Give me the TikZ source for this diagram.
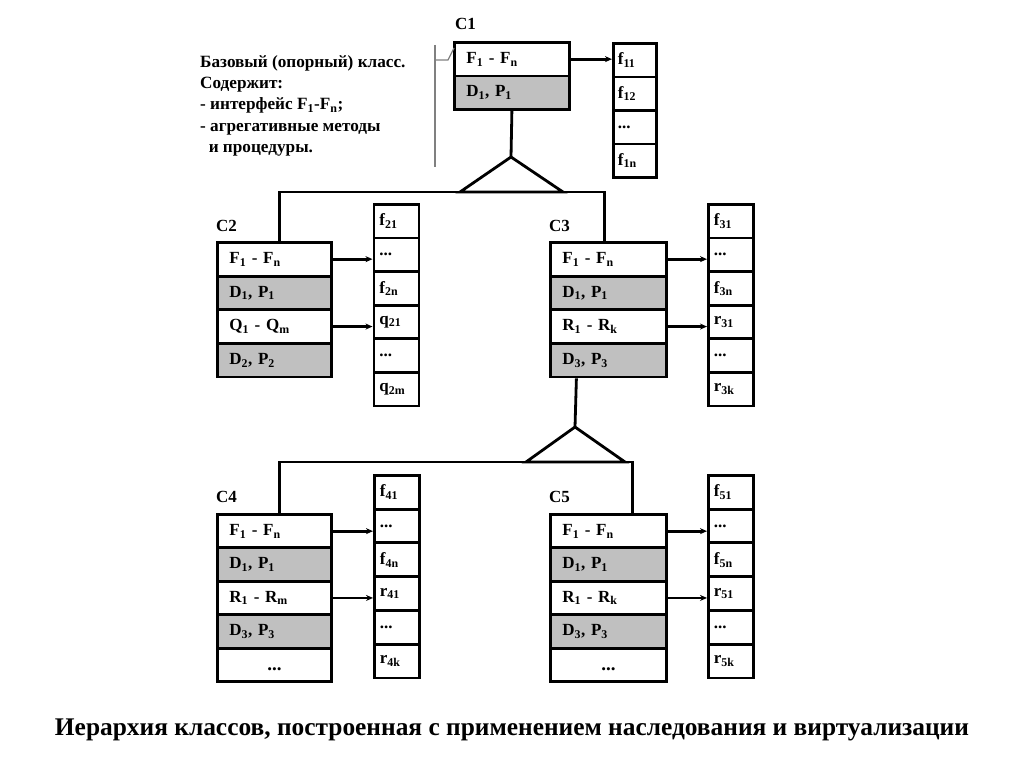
\documentclass[tikz,border=0pt]{standalone}
\usepackage{fontspec}
\setmainfont{Liberation Serif}
\usetikzlibrary{arrows.meta}
\definecolor{cellgray}{RGB}{192,192,192}
\definecolor{callgray}{RGB}{128,128,128}
\begin{document}
\begin{tikzpicture}[x=1pt,y=-1pt,
  cell/.style={draw, line width=2.8pt, anchor=north west, inner sep=0pt,
    font=\fontsize{17}{19}\selectfont\bfseries},
  row/.style={cell, minimum width=#1, minimum height=33.5pt,
    text width=#1-24pt, align=left},
  grow/.style={row=#1, fill=cellgray},
  col/.style={cell, minimum width=45pt, minimum height=33.6pt,
    text width=34pt, align=left},
  link/.style={line width=2.8pt},
  arr/.style={line width=2.8pt, -{Stealth[length=7pt,width=6pt]}},
  clabel/.style={anchor=west, inner sep=0pt, font=\fontsize{17}{19}\selectfont\bfseries},
  callout/.style={draw=callgray, line width=1.2pt},
  note/.style={anchor=north west, inner sep=0pt, align=left,
    font=\fontsize{17.2}{21.3}\selectfont\bfseries},
  title/.style={inner sep=0pt, font=\fontsize{25.4}{28}\selectfont\bfseries}
]
\useasboundingbox (0,0) rectangle (1024,768);
\newcommand{\sbs}[1]{\textsubscript{#1}}
\newcommand{\lowdots}{\raisebox{-6pt}[0pt][0pt]{\fontsize{19}{19}\selectfont ...}}

% ---------- C1 ----------
\node[clabel] (l1) at (455,24) {C1};
\node[row=115pt] (c1a) at (453,41) {F\sbs{1} - F\sbs{n}};
\node[grow=115pt] (c1b) at (453,74.5) {D\sbs{1}, P\sbs{1}};
\node[col, minimum width=43pt] (f1a) at (612,42) {f\sbs{11}};
\node[col, minimum width=43pt] (f1b) at (612,75.5) {f\sbs{12}};
\node[col, minimum width=43pt] (f1c) at (612,109) {...};
\node[col, minimum width=43pt] (f1d) at (612,142.5) {f\sbs{1n}};
\draw[arr] (c1a.east) -- (c1a.east -| f1a.west);

% callout
\node[note] (nt) at (200,55) {Базовый (опорный) класс.\\Содержит:\\- интерфейс F\sbs{1}-F\sbs{n};\\- агрегативные методы\\\ \ и процедуры.};
\coordinate (cv1) at (435,45);
\coordinate (cv2) at (435,167);
\coordinate (ch) at (435,60);
\coordinate (ck) at (448,60);
\coordinate (ct) at (454,48);
\draw[callout] (cv1) -- (cv2);
\draw[callout] (ch) -- (ck) -- (ct);

% ---------- C2 ----------
\node[clabel] (l2) at (216,226) {C2};
\node[row=114pt] (c2a) at (216,241) {F\sbs{1} - F\sbs{n}};
\node[grow=114pt] (c2b) at (216,274.7) {D\sbs{1}, P\sbs{1}};
\node[row=114pt] (c2c) at (216,308.4) {Q\sbs{1} - Q\sbs{m}};
\node[grow=114pt] (c2d) at (216,342.1) {D\sbs{2}, P\sbs{2}};
\node[col] (f2a) at (372.5,203) {f\sbs{21}};
\node[col] (f2b) at (372.5,236.6) {...};
\node[col] (f2c) at (372.5,270.2) {f\sbs{2n}};
\node[col] (f2d) at (372.5,303.8) {q\sbs{21}};
\node[col] (f2e) at (372.5,337.4) {...};
\node[col] (f2f) at (372.5,371) {q\sbs{2m}};
\draw[arr] (c2a.east) -- (c2a.east -| f2b.west);
\draw[arr] (c2c.east) -- (c2c.east -| f2d.west);

% ---------- C3 ----------
\node[clabel] (l3) at (549,226) {C3};
\node[row=116pt] (c3a) at (549,241) {F\sbs{1} - F\sbs{n}};
\node[grow=116pt] (c3b) at (549,274.7) {D\sbs{1}, P\sbs{1}};
\node[row=116pt] (c3c) at (549,308.4) {R\sbs{1} - R\sbs{k}};
\node[grow=116pt] (c3d) at (549,342.1) {D\sbs{3}, P\sbs{3}};
\node[col] (f3a) at (707,203) {f\sbs{31}};
\node[col] (f3b) at (707,236.6) {...};
\node[col] (f3c) at (707,270.2) {f\sbs{3n}};
\node[col] (f3d) at (707,303.8) {r\sbs{31}};
\node[col] (f3e) at (707,337.4) {...};
\node[col] (f3f) at (707,371) {r\sbs{3k}};
\draw[arr] (c3a.east) -- (c3a.east -| f3b.west);
\draw[arr] (c3c.east) -- (c3c.east -| f3d.west);

% ---------- C4 ----------
\node[clabel] (l4) at (216,497) {C4};
\node[row=114pt] (c4a) at (216,513) {F\sbs{1} - F\sbs{n}};
\node[grow=114pt] (c4b) at (216,546.4) {D\sbs{1}, P\sbs{1}};
\node[row=114pt] (c4c) at (216,579.8) {R\sbs{1} - R\sbs{m}};
\node[grow=114pt] (c4d) at (216,613.2) {D\sbs{3}, P\sbs{3}};
\node[row=114pt, align=center] (c4e) at (216,646.6) {\lowdots};
\node[col] (f4a) at (373,474) {f\sbs{41}};
\node[col] (f4b) at (373,507.8) {...};
\node[col] (f4c) at (373,541.6) {f\sbs{4n}};
\node[col] (f4d) at (373,575.4) {r\sbs{41}};
\node[col] (f4e) at (373,609.2) {...};
\node[col] (f4f) at (373,643) {r\sbs{4k}};
\draw[arr] (c4a.east) -- (c4a.east -| f4b.west);
\draw[arr] (c4c.east) -- (c4c.east -| f4d.west);

% ---------- C5 ----------
\node[clabel] (l5) at (549,497) {C5};
\node[row=116pt] (c5a) at (549,513) {F\sbs{1} - F\sbs{n}};
\node[grow=116pt] (c5b) at (549,546.4) {D\sbs{1}, P\sbs{1}};
\node[row=116pt] (c5c) at (549,579.8) {R\sbs{1} - R\sbs{k}};
\node[grow=116pt] (c5d) at (549,613.2) {D\sbs{3}, P\sbs{3}};
\node[row=116pt, align=center] (c5e) at (549,646.6) {\lowdots};
\node[col] (f5a) at (707,474) {f\sbs{51}};
\node[col] (f5b) at (707,507.8) {...};
\node[col] (f5c) at (707,541.6) {f\sbs{5n}};
\node[col] (f5d) at (707,575.4) {r\sbs{51}};
\node[col] (f5e) at (707,609.2) {...};
\node[col] (f5f) at (707,643) {r\sbs{5k}};
\draw[arr] (c5a.east) -- (c5a.east -| f5b.west);
\draw[arr] (c5c.east) -- (c5c.east -| f5d.west);

% ---------- inheritance connectors ----------
\coordinate (t1) at (511,157);
\draw[link] (c1b.south) -- (t1);
\draw[link, line join=miter] (t1) -- ++(-51,35) -- ++(103,0) -- cycle;
\draw[link] ([xshift=5pt]c2a.north) -- ++(0,-49) -| ([xshift=-4pt]c3a.north);

\coordinate (t2) at (575,427);
\draw[link] ([xshift=-32pt]c3d.south) -- (t2);
\draw[link, line join=miter] (t2) -- ++(-49,35) -- ++(99,0) -- cycle;
\draw[link] ([xshift=5pt]c4a.north) -- ++(0,-51) -| ([xshift=24pt]c5a.north);

% ---------- title ----------
\node[title] (ttl) at (512,730) {Иерархия классов, построенная с применением наследования и виртуализации};
\end{tikzpicture}
\end{document}
